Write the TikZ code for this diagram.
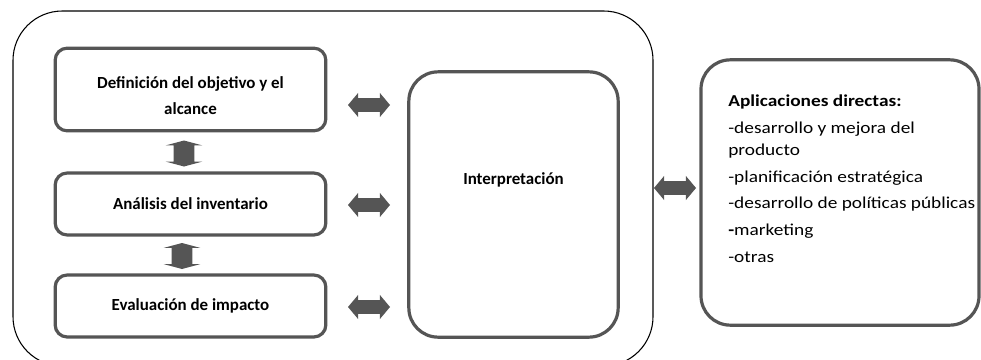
\documentclass[tikz,border=0pt]{standalone}
\usepackage{fontspec}
\setmainfont{Carlito}
\usetikzlibrary{shapes.arrows}
\definecolor{boxgray}{HTML}{555555}

\tikzset{
  stage/.style={draw=boxgray, line width=2.4pt, rounded corners=9pt,
    minimum width=203pt, minimum height=46.5pt, align=center,
    font=\bfseries\fontsize{12.7}{19.5}\selectfont},
  bigbox/.style={draw=boxgray, line width=2.4pt, rounded corners=22pt},
  harrow/.style={double arrow, fill=boxgray, draw=none, inner xsep=0pt,
    inner ysep=4.9pt, minimum height=31.5pt, minimum width=18pt,
    double arrow head extend=4pt, double arrow tip angle=100},
  varrow/.style={double arrow, fill=boxgray, draw=none, inner xsep=0pt,
    inner ysep=7.5pt, rotate=90, minimum height=19.5pt, minimum width=27pt,
    double arrow head extend=6pt, double arrow tip angle=150}
}

\begin{document}
\begin{tikzpicture}[x=0.75pt, y=-0.75pt]
    \useasboundingbox (0,0) rectangle (981,360);
    % outer frame
    \draw[line width=0.8pt, rounded corners=37pt] (13,11) rectangle (653,366);

    % stages
    \node[stage, minimum height=62pt] (def) at (190.5,89.5) {\rule{0pt}{17.5pt}Definición del objetivo y el\\alcance};
    \node[stage] (ana) at (190.5,204) {Análisis del inventario};
    \node[stage] (eva) at (190.5,306) {Evaluación de impacto};

    \node[bigbox, minimum width=157pt, minimum height=199pt] (interp) at (513.5,204.5) {};
    \node[font=\bfseries\fontsize{12.7}{14}\selectfont] (interptxt) at (513.5,180) {Interpretación};

    \node[bigbox, minimum width=208.5pt, minimum height=199pt] (apps) at (840,192.5) {};
    \node[anchor=north west, inner sep=0pt, align=left, xscale=1.16, transform shape,
          font=\fontsize{12.5}{16.5}\selectfont] (appstxt) at (728,95)
      {\textbf{Aplicaciones directas:}\\[3.5pt]
       -desarrollo y mejora del\\producto\\[3.5pt]
       -planificación estratégica\\[3.5pt]
       -desarrollo de políticas públicas\\[3.5pt]
       \textbf{-}marketing\\[3.5pt]
       -otras};

    % block arrows
    \node[varrow] (v1) at (184,153.5) {};
    \node[varrow] (v2) at (182,256) {};
    \node[harrow] (h1) at (369,105) {};
    \node[harrow] (h2) at (369,205) {};
    \node[harrow] (h3) at (369,307) {};
    \node[harrow] (h4) at (675,188) {};
\end{tikzpicture}
\end{document}
